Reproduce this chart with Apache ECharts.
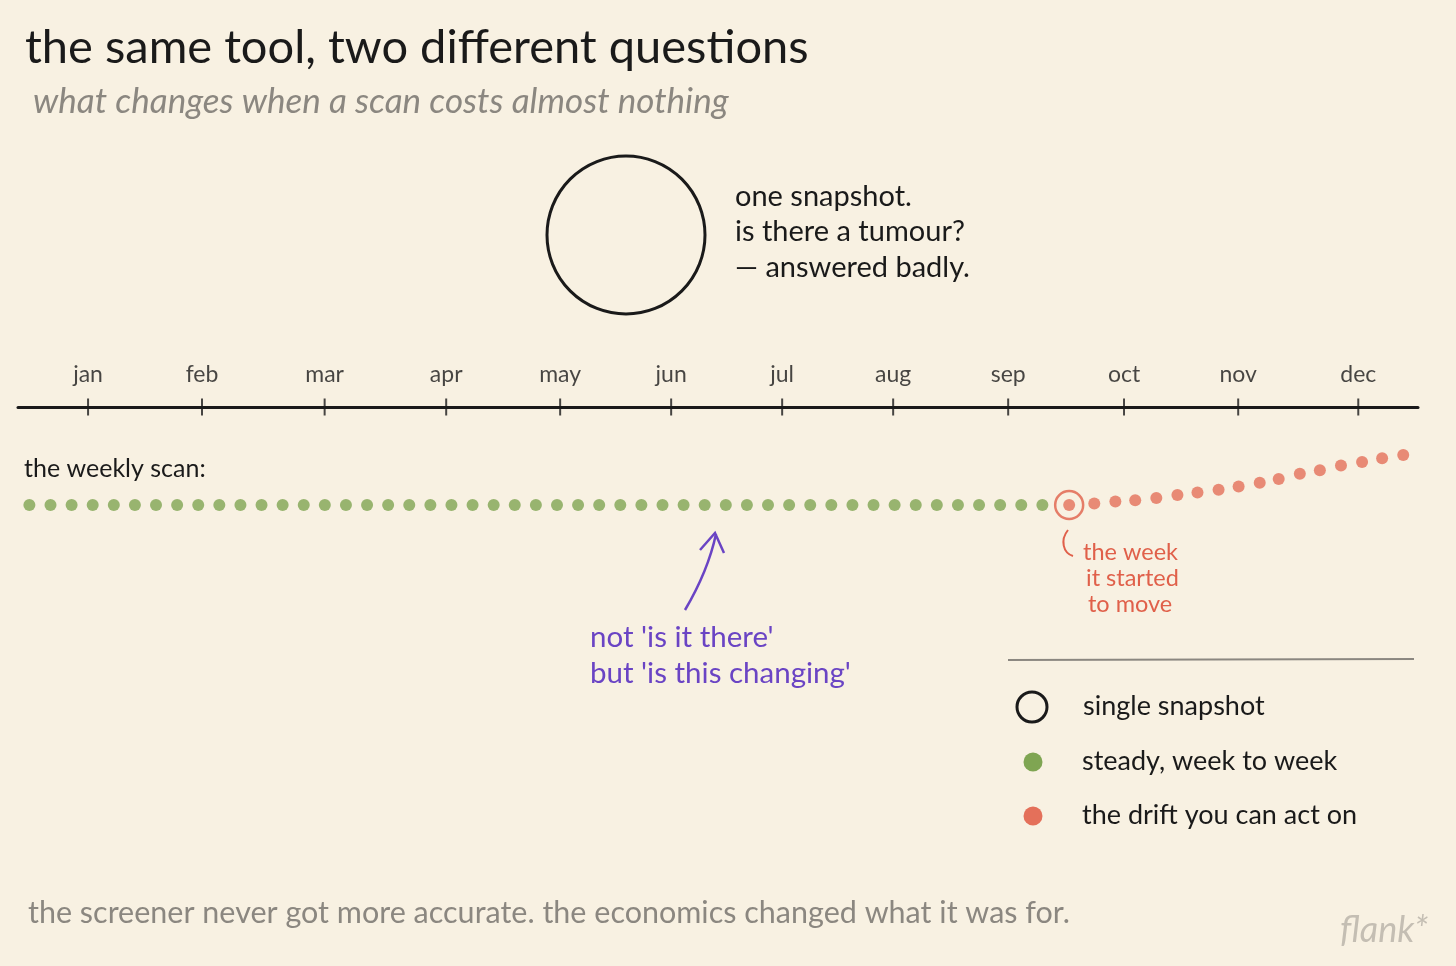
<!DOCTYPE html>
<html>
<head>
<meta charset="utf-8">
<script src="https://cdn.jsdelivr.net/npm/echarts@6/dist/echarts.min.js"></script>
<style>
html,body{margin:0;padding:0;background:#f8f1e2;}
#chart{width:1456px;height:966px;}
</style>
</head>
<body>
<div id="chart"></div>
<script>
// ---- data ----
const months = ['jan','feb','mar','apr','may','jun','jul','aug','sep','oct','nov','dec'];
// month tick positions, in weeks from the first scan
const monthWeeks = [2.78, 8.18, 13.99, 19.75, 25.15, 30.41, 35.67, 40.93, 46.38, 51.87, 57.28, 62.97];
// steady weekly readings (weeks 0..48)
const steadyValues = [0,0,0,0,0,0,0,0,0,0,0,0,0,0,0,0,0,0,0,0,0,0,0,0,0,0,0,0,0,0,0,0,0,0,0,0,0,0,0,0,0,0,0,0,0,0,0,0,0];
// drifting readings: positions (weeks) as drawn, and values; first one is the week it started to move
const driftWeeks = [49.27, 50.46, 51.46, 52.4, 53.4, 54.4, 55.35, 56.35, 57.3, 58.3, 59.2, 60.2, 61.15, 62.15, 63.15, 64.1, 65.1];
const driftValues = [0, 1.6, 3.5, 4.8, 7.1, 10, 12.6, 15.2, 18.4, 22.3, 26.1, 31.3, 34.8, 39.4, 42.9, 46.8, 50];

const steadyData = steadyValues.map((v, i) => [i, v]);
const driftData = driftValues.map((v, i) => [driftWeeks[i], v]);
const monthData = monthWeeks.map((w, i) => ({ value: [w, 0], name: months[i] }));

const FONT = 'Lato, "Noto Sans", sans-serif';
const INK = '#1a1a1a';
const GREY = '#8b8780';
const GREEN = '#7fa552';
const RED = '#e4705a';
const RING = '#e0604a';
const PURPLE = '#6a44c4';

const chart = echarts.init(document.getElementById('chart'), null, { renderer: 'canvas' });

function txt(text, x, y, size, color, extra) {
  return {
    type: 'text', silent: true,
    style: Object.assign({ text, x, y, fontSize: size, fontFamily: FONT, fill: color, verticalAlign: 'middle' }, extra || {})
  };
}

const option = {
  backgroundColor: '#f8f1e2',
  animation: false,
  grid: [
    { left: 18, right: 38, top: 300, height: 107 },
    { left: 18, right: 38, top: 455, height: 50 }
  ],
  xAxis: [
    { gridIndex: 0, type: 'value', min: -0.54, max: 65.8,
      axisLine: { show: true, lineStyle: { color: INK, width: 3 } },
      axisTick: { show: false }, axisLabel: { show: false }, splitLine: { show: false } },
    { gridIndex: 1, type: 'value', min: -0.54, max: 65.8, show: false }
  ],
  yAxis: [
    { gridIndex: 0, type: 'value', min: 0, max: 1, show: false },
    { gridIndex: 1, type: 'value', min: 0, max: 50, show: false }
  ],
  series: [
    { name: 'months', type: 'scatter', xAxisIndex: 0, yAxisIndex: 0,
      symbol: 'rect', symbolSize: [2, 17], itemStyle: { color: INK }, silent: true,
      label: { show: true, formatter: p => p.name, position: 'top', distance: 12,
               color: INK, fontSize: 23, fontFamily: FONT },
      data: monthData, z: 3 },
    { name: 'steady, week to week', type: 'scatter', xAxisIndex: 1, yAxisIndex: 1,
      symbol: 'circle', symbolSize: 12, itemStyle: { color: GREEN }, silent: true,
      data: steadyData },
    { name: 'the drift you can act on', type: 'scatter', xAxisIndex: 1, yAxisIndex: 1,
      symbol: 'circle', symbolSize: 12, itemStyle: { color: RED }, silent: true,
      data: driftData },
    { name: 'ring', type: 'scatter', xAxisIndex: 1, yAxisIndex: 1,
      symbol: 'circle', symbolSize: 28, silent: true,
      itemStyle: { color: 'rgba(0,0,0,0)', borderColor: RING, borderWidth: 2.5 },
      data: [driftData[0]] }
  ],
  graphic: [
    txt('the same tool, two different questions', 25, 48, 47, INK),
    txt('what changes when a scan costs almost nothing', 33, 102, 35, GREY, { fontStyle: 'italic' }),
    { type: 'circle', silent: true, shape: { cx: 626, cy: 235, r: 79 },
      style: { fill: 'none', stroke: INK, lineWidth: 3 } },
    txt('one snapshot.', 735, 197, 29, INK),
    txt('is there a tumour?', 735, 232, 29, INK),
    txt('\u2014 answered badly.', 735, 268, 29, INK),
    txt('the weekly scan:', 24, 469, 25, INK),
    { type: 'bezierCurve', silent: true,
      shape: { x1: 1068, y1: 530, x2: 1073, y2: 556, cpx1: 1060, cpy1: 540, cpx2: 1063, cpy2: 553 },
      style: { stroke: RING, lineWidth: 2, fill: 'none' } },
    txt('the week', 1083, 552, 23.5, RING),
    txt('it started', 1086, 578, 23.5, RING),
    txt('to move', 1088, 604, 23.5, RING),
    { type: 'bezierCurve', silent: true,
      shape: { x1: 685, y1: 610, x2: 716, y2: 534, cpx1: 698, cpy1: 588, cpx2: 710, cpy2: 562 },
      style: { stroke: PURPLE, lineWidth: 2.5, fill: 'none' } },
    { type: 'polyline', silent: true,
      shape: { points: [[700, 550], [715, 533], [724, 553]] },
      style: { stroke: PURPLE, lineWidth: 2.5, fill: 'none' } },
    txt("not 'is it there'", 590, 637, 29.5, PURPLE),
    txt("but 'is this changing'", 590, 673, 29.5, PURPLE),
    { type: 'line', silent: true, shape: { x1: 1008, y1: 660, x2: 1414, y2: 659 },
      style: { stroke: GREY, lineWidth: 2 } },
    { type: 'circle', silent: true, shape: { cx: 1032, cy: 707, r: 15 },
      style: { fill: 'none', stroke: INK, lineWidth: 3 } },
    txt('single snapshot', 1083, 706, 27, INK),
    { type: 'circle', silent: true, shape: { cx: 1033, cy: 762, r: 9.5 }, style: { fill: GREEN } },
    txt('steady, week to week', 1082, 761, 27, INK),
    { type: 'circle', silent: true, shape: { cx: 1033, cy: 816, r: 9.5 }, style: { fill: RED } },
    txt('the drift you can act on', 1082, 815, 27, INK),
    txt('the screener never got more accurate. the economics changed what it was for.', 28, 913, 30.5, GREY),
    txt('flank*', 1340, 930, 36, '#c4beb3', { fontStyle: 'italic' })
  ]
};
chart.setOption(option);
</script>
</body>
</html>
